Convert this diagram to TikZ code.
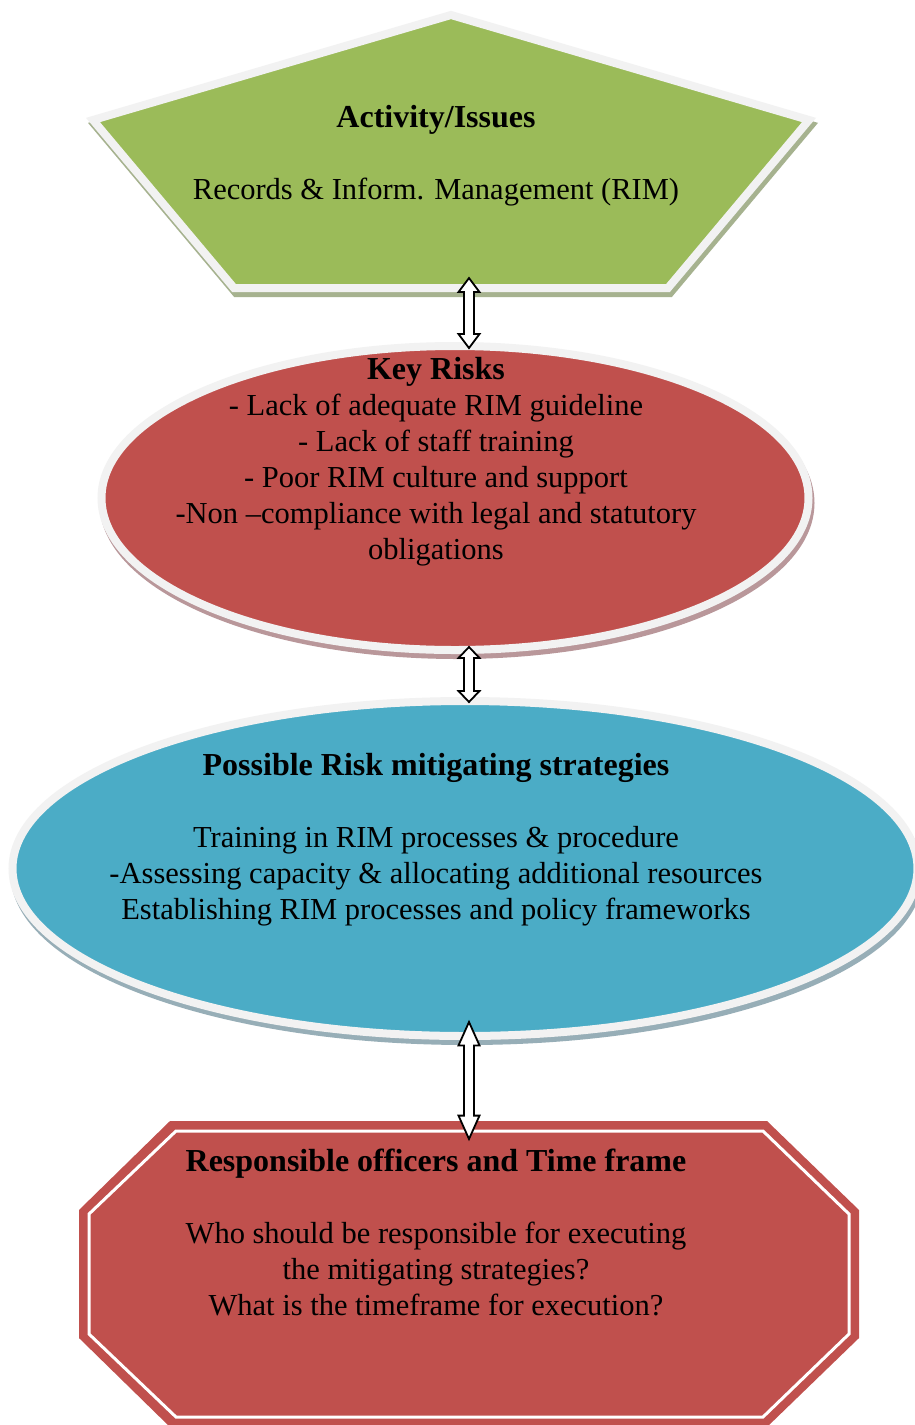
\documentclass[tikz,border=0pt]{standalone}
\usepackage{fontspec}
\setmainfont{Liberation Serif}
\usetikzlibrary{calc}

\definecolor{leaf}{HTML}{9BBB59}
\definecolor{leafshade}{HTML}{A6B28F}
\definecolor{brick}{HTML}{C0504D}
\definecolor{brickshade}{HTML}{B9979A}
\definecolor{skyfill}{HTML}{4BACC6}
\definecolor{skyshade}{HTML}{97AEB7}
\definecolor{rimgray}{HTML}{F2F2F2}

% heading lines are set a little larger and bold
\newcommand\headline[1]{{\fontsize{32}{36}\selectfont\bfseries #1}}

\tikzset{
  rimline/.style={draw=rimgray, line width=8pt, line join=miter},
  shadeline/.style={draw=#1, fill=#1, line width=8pt, line join=miter},
  txt/.style={align=center, inner sep=0pt, text=black,
    font=\fontsize{30.5}{36}\selectfont},
  % vertical two-headed block arrow; heads take a fifth of its length
  barrow/.style={draw=black, fill=white, line width=1.8pt, line join=miter,
    to path={let \p1=(\tikztostart), \p2=(\tikztotarget),
      \n1={0.2*(\y1-\y2)} in
      (\x1,\y1) -- (\x1+10.5pt,\y1-\n1) -- (\x1+5pt,\y1-\n1)
      -- (\x1+5pt,\y2+\n1) -- (\x1+10.5pt,\y2+\n1) -- (\x1,\y2)
      -- (\x1-10.5pt,\y2+\n1) -- (\x1-5pt,\y2+\n1)
      -- (\x1-5pt,\y1-\n1) -- (\x1-10.5pt,\y1-\n1) -- cycle}}
}

\begin{document}
\begin{tikzpicture}[x=1pt, y=-1pt]
\useasboundingbox (0,0) rectangle (915,1425);
\clip (0,0) rectangle (915,1425);
\fill[white] (0,0) rectangle (915,1425);

% ---- Activity / Issues pentagon
\begin{scope}[shift={(2,5)}]
  \draw[shadeline=leafshade] (451,15) -- (809,120) -- (668,288) -- (234,288) -- (93,120) -- cycle;
\end{scope}
\draw[rimline, fill=leaf] (451,15) -- (809,120) -- (668,288) -- (234,288) -- (93,120) -- cycle;

% ---- Key Risks ellipse
\begin{scope}[shift={(2,5)}]
  \draw[shadeline=brickshade] (455,498) ellipse [x radius=353.5pt, y radius=152pt];
\end{scope}
\draw[rimline, fill=brick] (455,498) ellipse [x radius=353.5pt, y radius=152pt];

% ---- Mitigating strategies ellipse
\begin{scope}[shift={(2,5)}]
  \draw[shadeline=skyshade] (465,868.5) ellipse [x radius=452.5pt, y radius=167.5pt];
\end{scope}
\draw[rimline, fill=skyfill] (465,868.5) ellipse [x radius=452.5pt, y radius=167.5pt];

% ---- Responsible officers octagon
\fill[brick] (170,1121) -- (767,1121) -- (859,1210) -- (859,1338) -- (767,1427)
  -- (170,1427) -- (79,1338) -- (79,1210) -- cycle;
\draw[white, line width=3pt, line join=miter] (176,1131) -- (763,1131) -- (849,1214)
  -- (849,1334) -- (763,1417) -- (176,1417) -- (89,1334) -- (89,1214) -- cycle;

% ---- arrow ends
\coordinate (pentfoot) at (469,278);
\coordinate (riskhead) at (469,348);
\coordinate (riskfoot) at (469,647);
\coordinate (mithead)  at (469,702);
\coordinate (mitfoot)  at (469,1022);
\coordinate (offhead)  at (469,1139);

\draw[barrow] (pentfoot) to (riskhead);
\draw[barrow] (riskfoot) to (mithead);
\draw[barrow] (mitfoot) to (offhead);

% ---- texts
\node[txt] (acttxt) at (436,156)
  {\headline{Activity/Issues}\\[36pt]
   Records \& Inform. Management (RIM)};

\node[txt] (risktxt) at (436,462)
  {\headline{Key Risks}\\
   - Lack of adequate RIM guideline\\
   - Lack of staff training\\
   - Poor RIM culture and support\\
   -Non –compliance with legal and statutory\\
   obligations};

\node[txt] (mittxt) at (436,840)
  {\headline{Possible Risk mitigating strategies}\\[36pt]
   Training in RIM processes \& procedure\\
   -Assessing capacity \& allocating additional resources\\
   Establishing RIM processes and policy frameworks};

\node[txt] (offtxt) at (436,1232)
  {\headline{Responsible officers and Time frame}\\[36pt]
   Who should be responsible for executing\\
   the mitigating strategies?\\
   What is the timeframe for execution?};
\end{tikzpicture}
\end{document}
